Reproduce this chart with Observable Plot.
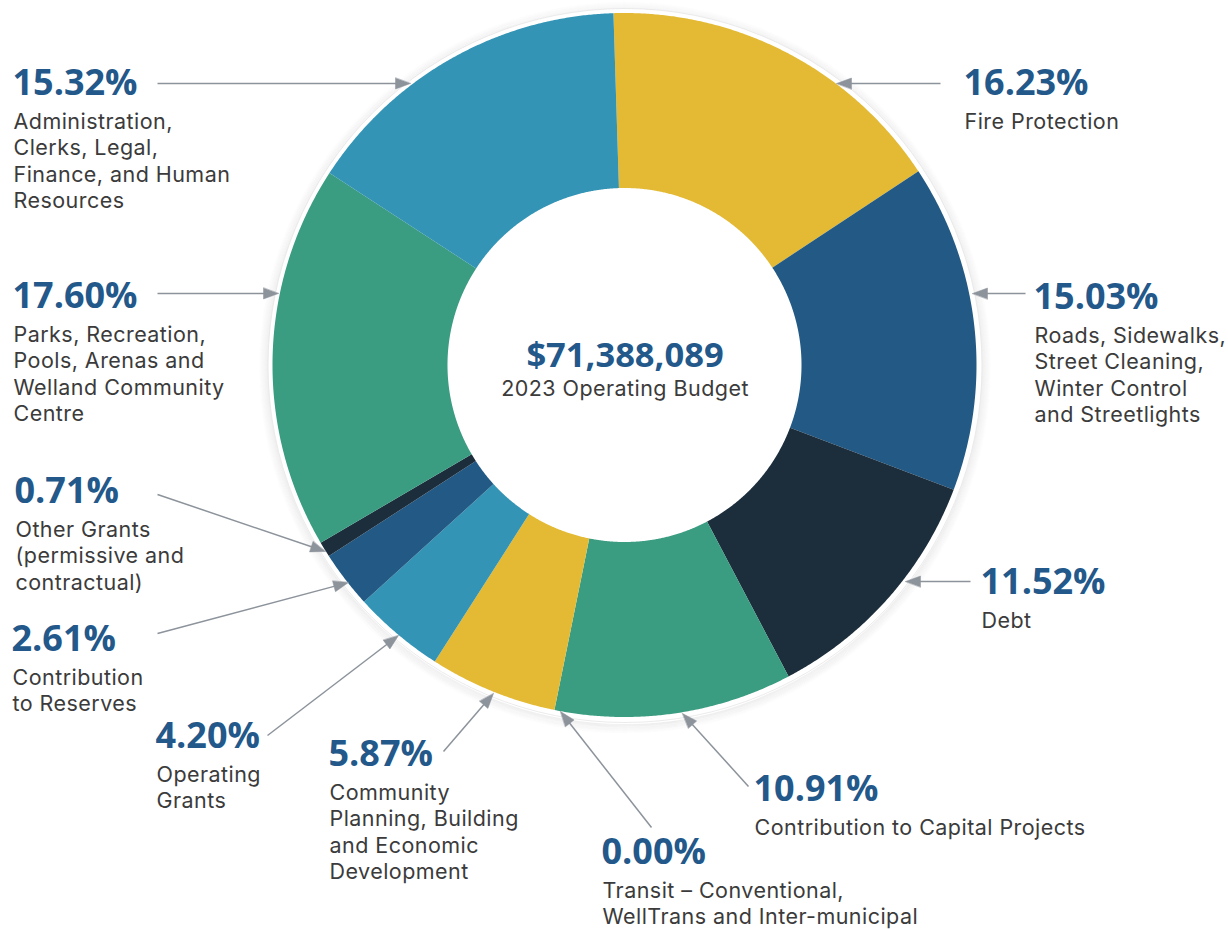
<!DOCTYPE html>
<html><head><meta charset="utf-8">
<script src="https://cdn.jsdelivr.net/npm/d3@7"></script>
<script src="https://cdn.jsdelivr.net/npm/@observablehq/plot@0.6"></script>
<style>
body{margin:0;background:#fff}
g[font-size="21.5"], g[font-size="21.5"] text{letter-spacing:0.45px}
</style>
</head><body><div id="chart"></div>
<script>
// ---------- data ----------
const categories = [
  "Fire Protection",
  "Roads, Sidewalks,\nStreet Cleaning,\nWinter Control\nand Streetlights",
  "Debt",
  "Contribution to Capital Projects",
  "Transit – Conventional,\nWellTrans and Inter-municipal",
  "Community\nPlanning, Building\nand Economic\nDevelopment",
  "Operating\nGrants",
  "Contribution\nto Reserves",
  "Other Grants\n(permissive and\ncontractual)",
  "Parks, Recreation,\nPools, Arenas and\nWelland Community\nCentre",
  "Administration,\nClerks, Legal,\nFinance, and Human\nResources"
];
const shares = [16.23, 15.03, 11.52, 10.91, 0.00, 5.87, 4.20, 2.61, 0.71, 17.60, 15.32];
const sliceColors = ["#e4ba35", "#235a85", "#1c2d3c", "#3a9c80", "#3394b5", "#e4ba35", "#3394b5", "#235a85", "#1c2d3c", "#3a9c80", "#3394b5"];
const totalLabel = "$71,388,089";
const totalCaption = "2023 Operating Budget";

// ---------- layout ----------
const W = 1228, H = 929;
const CX = 624.5, CY = 365, R_OUT = 352, R_IN = 177, START_DEG = -1.8;
const labelPos = [[965,94],[1035,308],[982,593],[755,800],[603,863],[330,765],[157,747],[13,650],[16,502],[14,307],[14,94]];
const arrowPos = [[940,83,836,83],[1025,293,972,293],[970,581,905,581],[748,786,682,713],[651,827,560,711],[443,751,493,693],[267,735,398,635],[157,633,348,582],[157,494,325,551],[157,293,278,293],[157,83,410,83]];
const PCT_COLOR = "#23588a", TXT_COLOR = "#3b3b3b", ARROW_COLOR = "#8c939b";

// ---------- derived geometry ----------
const rows = [];
let cum = 0;
shares.forEach((v, i) => {
  const a0 = (START_DEG + cum * 3.6) * Math.PI / 180;
  const a1 = (START_DEG + (cum + v) * 3.6) * Math.PI / 180;
  cum += v;
  if (v <= 0) return;
  const n = Math.max(2, Math.ceil((a1 - a0) / 0.005));
  for (let k = 0; k <= n; k++) {
    const a = a0 + (a1 - a0) * k / n;
    rows.push({id: i, color: sliceColors[i],
      xo: CX + R_OUT * Math.sin(a), yo: CY - R_OUT * Math.cos(a),
      xi: CX + R_IN * Math.sin(a), yi: CY - R_IN * Math.cos(a)});
  }
});

const pctRows = shares.map((v, i) => ({x: labelPos[i][0] - 2, y: labelPos[i][1], t: v.toFixed(2) + "%"}));
const descRows = [];
categories.forEach((c, i) => c.split("\n").forEach((line, j) =>
  descRows.push({x: labelPos[i][0] - 1, y: labelPos[i][1] + 34 + j * 26.6, t: line})));

const HEAD_L = 15, HEAD_W = 5.5;
const links = [], heads = [];
arrowPos.forEach(([x1, y1, x2, y2], i) => {
  const len = Math.hypot(x2 - x1, y2 - y1), ux = (x2 - x1) / len, uy = (y2 - y1) / len;
  const bx = x2 - ux * HEAD_L, by = y2 - uy * HEAD_L;
  links.push({x1, y1, x2: bx + ux, y2: by + uy});
  heads.push({id: i, x: x2, y: y2});
  heads.push({id: i, x: bx - uy * HEAD_W, y: by + ux * HEAD_W});
  heads.push({id: i, x: bx + uy * HEAD_W, y: by - ux * HEAD_W});
});

const center = [{x: CX, y: CY}];
const shadowRings = d3.range(1, 11).map(k => ({x: CX, y: CY + 2, r: R_OUT + 4 + k, o: 0.06 * (1 - k / 11)}));

const chart = Plot.plot({
  width: W, height: H, margin: 0,
  x: {domain: [0, W], range: [0, W], axis: null},
  y: {domain: [0, H], range: [0, H], axis: null},
  color: {type: "identity"},
  style: {background: "#fff"},
  marks: [
    ...shadowRings.map(s => Plot.dot([s], {x: "x", y: "y", r: s.r, stroke: "#000", strokeOpacity: s.o, strokeWidth: 1.2, fill: "none"})),
    Plot.dot(center, {x: "x", y: "y", r: R_OUT + 5, fill: "#fff", stroke: "#e6e6e6", strokeWidth: 0.8}),
    Plot.area(rows, {x1: "xo", y1: "yo", x2: "xi", y2: "yi", z: "id", fill: "color"}),
    Plot.link(links, {x1: "x1", y1: "y1", x2: "x2", y2: "y2", stroke: ARROW_COLOR, strokeWidth: 1.5}),
    Plot.line(heads, {x: "x", y: "y", z: "id", fill: ARROW_COLOR, stroke: ARROW_COLOR, strokeWidth: 0.5, curve: "linear-closed"}),
    Plot.text(pctRows, {x: "x", y: "y", text: "t", textAnchor: "start", lineAnchor: "bottom", fontSize: 36, fontWeight: 700, fontFamily: "Open Sans", fill: PCT_COLOR}),
    Plot.text(descRows, {x: "x", y: "y", text: "t", textAnchor: "start", lineAnchor: "bottom", fontSize: 21.5, fontFamily: "Inter", fill: TXT_COLOR}),
    Plot.text([{x: CX, y: CY + 1, t: totalLabel}], {x: "x", y: "y", text: "t", textAnchor: "middle", lineAnchor: "bottom", fontSize: 34.5, fontWeight: 700, fontFamily: "Open Sans", fill: PCT_COLOR}),
    Plot.text([{x: CX, y: CY + 30, t: totalCaption}], {x: "x", y: "y", text: "t", textAnchor: "middle", lineAnchor: "bottom", fontSize: 21.5, fontFamily: "Inter", fill: TXT_COLOR})
  ]
});
document.getElementById("chart").appendChild(chart);
</script>
</body></html>
